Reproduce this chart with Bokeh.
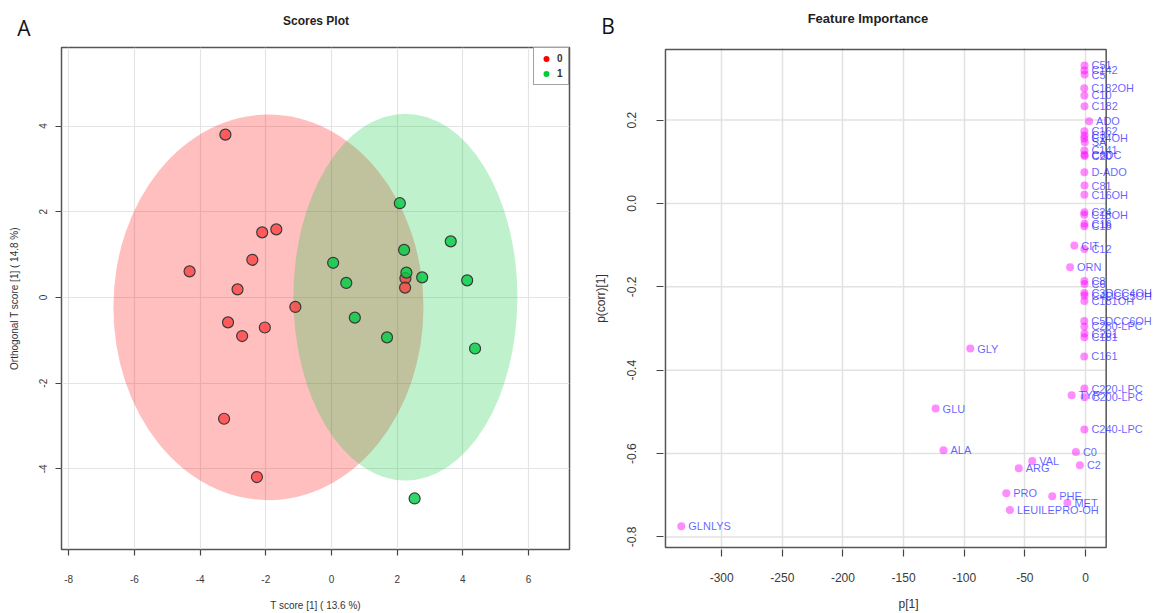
from bokeh.plotting import figure
from bokeh.layouts import row, column
from bokeh.models import (Range1d, FixedTicker, LabelSet, ColumnDataSource,
                          Legend, LegendItem, Div)
from bokeh.core.properties import value
from bokeh.embed import file_html
from bokeh.resources import INLINE

# ---------------- data: A, scores plot ----------------
group0_t = [-3.23, -2.11, -1.68, -2.41, -4.32, -2.86, -1.10, -3.15, -2.03, -2.72, -3.27, -2.27, 2.25, 2.24]
group0_o = [3.80, 1.52, 1.59, 0.88, 0.61, 0.19, -0.22, -0.58, -0.70, -0.90, -2.83, -4.19, 0.45, 0.23]
group1_t = [2.08, 3.63, 2.21, 0.05, 2.28, 2.76, 4.13, 0.45, 0.71, 1.69, 4.37, 2.53]
group1_o = [2.20, 1.31, 1.11, 0.81, 0.58, 0.47, 0.40, 0.34, -0.47, -0.93, -1.19, -4.69]
ellipse_cx = [-1.92, 2.25]
ellipse_cy = [-0.23, 0.01]
ellipse_w = [9.44, 6.82]
ellipse_h = [9.00, 8.56]
ellipse_colors = ["#FF0000", "#00CC33"]
groups = ["0", "1"]
a_xticks = [-8, -6, -4, -2, 0, 2, 4, 6]
a_xlabels = ["-8", "-6", "-4", "-2", "0", "2", "4", "6"]
a_yticks = [-4, -2, 0, 2, 4]
a_ylabels = ["-4", "-2", "0", "2", "4"]

# ---------------- data: B, feature importance ----------------
features = ["C51", "C142", "C5", "C182OH", "C10", "C182", "ADO",
            "C162", "C3", "C14OH", "SA", "C141", "C6DC", "C20",
            "D-ADO", "C81", "C16OH", "C24", "C18OH", "C16", "C18",
            "CIT", "C12", "ORN", "C8", "C6",
            "C3DCC4OH", "C4DCC5OH", "C181OH", "C5DCC6OH", "C260-LPC", "C201", "C181",
            "C161", "GLY", "C220-LPC", "TYR", "C200-LPC", "GLU", "C240-LPC",
            "ALA", "C0", "VAL", "C2", "ARG", "PRO", "PHE", "MET", "LEUILEPRO-OH", "GLNLYS"]
p1_values = [-0.8, -0.9, -0.7, -1.0, -0.9, -0.8, 3.0,
             -0.9, -0.8, -1.0, -0.6, -0.9, -0.8, -0.7,
             -0.9, -0.8, -0.9, -0.9, -1.0, -0.8, -0.9,
             -9.2, -0.9, -12.7, -0.9, -0.8,
             -0.9, -0.8, -0.9, -1.0, -0.9, -0.8, -0.9,
             -1.0, -95.0, -0.9, -11.4, -0.8, -123.6, -0.9,
             -117.1, -7.9, -43.9, -4.6, -55.0, -65.3, -27.4, -14.9, -62.3, -333.3]
pcorr_values = [0.331, 0.319, 0.309, 0.276, 0.259, 0.233, 0.197,
                0.173, 0.163, 0.156, 0.147, 0.127, 0.117, 0.114,
                0.075, 0.043, 0.021, -0.021, -0.027, -0.049, -0.055,
                -0.101, -0.109, -0.153, -0.186, -0.193,
                -0.215, -0.221, -0.234, -0.282, -0.295, -0.312, -0.321,
                -0.367, -0.348, -0.444, -0.460, -0.465, -0.492, -0.542,
                -0.592, -0.596, -0.618, -0.628, -0.635, -0.695, -0.702, -0.718, -0.735, -0.774]
b_xticks = [-300, -250, -200, -150, -100, -50, 0]
b_xlabels = ["-300", "-250", "-200", "-150", "-100", "-50", "0"]
b_yticks = [-0.8, -0.6, -0.4, -0.2, 0.0, 0.2]
b_ylabels = ["-0.8", "-0.6", "-0.4", "-0.2", "0.0", "0.2"]

FONT = "Liberation Sans"
TOTAL_W = 1153
STRIP_H = 40
TOP, BOTTOM, FRAME_H = 7, 64, 502
FIG_H = TOP + FRAME_H + BOTTOM


def style(p, xticks, xlabels, yticks, ylabels, tick_font, tick_out, xstandoff, ystandoff):
    p.xaxis.ticker = FixedTicker(ticks=xticks)
    p.yaxis.ticker = FixedTicker(ticks=yticks)
    p.xgrid.ticker = FixedTicker(ticks=xticks)
    p.ygrid.ticker = FixedTicker(ticks=yticks)
    p.xaxis.major_label_overrides = {t: s for t, s in zip(xticks, xlabels)}
    p.yaxis.major_label_overrides = {t: s for t, s in zip(yticks, ylabels)}
    for ax in (p.xaxis[0], p.yaxis[0]):
        ax.axis_line_color = None
        ax.major_tick_in = 0
        ax.major_tick_out = tick_out
        ax.major_tick_line_color = "#444444"
        ax.major_tick_line_width = 1.2
        ax.minor_tick_line_color = None
        ax.major_label_text_font = FONT
        ax.major_label_text_font_size = tick_font
        ax.major_label_text_color = "#3a3a3a"
        ax.axis_label_text_font = FONT
        ax.axis_label_text_font_style = "normal"
        ax.axis_label_text_color = "#333333"
    p.xaxis.major_label_standoff = xstandoff
    p.yaxis.major_label_standoff = ystandoff
    p.yaxis.major_label_orientation = "vertical"
    p.background_fill_color = "white"
    p.border_fill_color = "white"


# ---------------- figure A ----------------
pa = figure(width=590, height=FIG_H, x_range=Range1d(-8.219, 7.245), y_range=Range1d(-5.881, 5.834),
            output_backend="svg", toolbar_location=None,
            min_border_left=61, min_border_right=21, min_border_top=TOP, min_border_bottom=BOTTOM)
style(pa, a_xticks, a_xlabels, a_yticks, a_ylabels, "10px", 6, 19, 8)
pa.outline_line_color = "#555555"
pa.outline_line_width = 1.5
pa.grid.grid_line_color = "#E4E4E4"
pa.grid.grid_line_width = 1.2
pa.xaxis.axis_label = "T score [1] ( 13.6 %)"
pa.yaxis.axis_label = "Orthogonal T score [1] ( 14.8 %)"
pa.xaxis.axis_label_standoff = 14
pa.yaxis.axis_label_standoff = 17
pa.xaxis.axis_label_text_font_size = "10px"
pa.yaxis.axis_label_text_font_size = "10px"

ell_src = ColumnDataSource(dict(x=ellipse_cx, y=ellipse_cy, w=ellipse_w, h=ellipse_h, c=ellipse_colors))
pa.ellipse(x="x", y="y", width="w", height="h", source=ell_src,
           fill_color="c", fill_alpha=0.25, line_color=None)
pa.scatter(group0_t, group0_o, size=11, fill_color="#FF3030", fill_alpha=0.7,
           line_color="#3A3A3A", line_width=1.2)
pa.scatter(group1_t, group1_o, size=11, fill_color="#00CC44", fill_alpha=0.8,
           line_color="#3A3A3A", line_width=1.2)

leg0 = pa.scatter(group0_t, group0_o, size=0, fill_color="#FF0000", line_color=None)
leg1 = pa.scatter(group1_t, group1_o, size=0, fill_color="#00CC33", line_color=None)
legend = Legend(items=[LegendItem(label=groups[0], renderers=[leg0]),
                       LegendItem(label=groups[1], renderers=[leg1])],
                location="top_right", margin=0, padding=3, spacing=0,
                label_text_font=FONT, label_text_font_size="10px", label_height=15,
                label_width=8, label_text_font_style="bold", label_text_color="#333333",
                glyph_width=18, glyph_height=15, label_standoff=2,
                border_line_color="#444444", border_line_width=1.2,
                background_fill_alpha=1.0)
pa.add_layout(legend, "center")

# ---------------- figure B ----------------
# the frame runs on to the right edge so that the point labels can pass the box, as in the reference
BOX_L, BOX_R, BOX_B, BOX_T = -346.34, 17.07, -0.825, 0.3693
pb = figure(width=TOTAL_W - 590, height=FIG_H, x_range=Range1d(-347.97, 56.1), y_range=Range1d(-0.830, 0.374),
            output_backend="svg", toolbar_location=None,
            min_border_left=66, min_border_right=0, min_border_top=TOP, min_border_bottom=BOTTOM)
style(pb, b_xticks, b_xlabels, b_yticks, b_ylabels, "12px", 7, 16, 20)
pb.outline_line_color = None
pb.xgrid.grid_line_color = "#E2E2E2"
pb.xgrid.grid_line_width = 1.5
pb.ygrid.visible = False
pb.xaxis.bounds = (BOX_L, BOX_R)
pb.xaxis.axis_label = "p[1]"
pb.yaxis.axis_label = "p(corr)[1]"
pb.xaxis.axis_label_standoff = 12
pb.yaxis.axis_label_standoff = 17
pb.xaxis.axis_label_text_font_size = "12px"
pb.yaxis.axis_label_text_font_size = "12px"

n = len(b_yticks)
pb.segment(x0=[BOX_L] * n, y0=b_yticks, x1=[BOX_R] * n, y1=b_yticks,
           line_color="#E2E2E2", line_width=1.5)
pb.quad(left=[BOX_L], right=[BOX_R], bottom=[BOX_B], top=[BOX_T],
        fill_color=None, line_color="#555555", line_width=1.5)

src = ColumnDataSource(dict(x=p1_values, y=pcorr_values, name=features))
pb.scatter("x", "y", source=src, size=8, fill_color="#FF00FF", fill_alpha=0.45, line_color=None)
pb.add_layout(LabelSet(x="x", y="y", text="name", source=src, x_offset=7, y_offset=0,
                       text_baseline="middle", text_align="left",
                       text_font=value(FONT), text_font_size="11px",
                       text_color="#1A1AFF", text_alpha=0.7))

# ---------------- panel letters and titles ----------------
def span(x, y, txt, size, bold, family, color):
    weight = "bold" if bold else "normal"
    return (f'<span style="position:absolute;left:{x}px;top:{y}px;transform:translate(-50%,-50%);'
            f'white-space:nowrap;line-height:1;font-family:{family};font-size:{size}px;'
            f'font-weight:{weight};color:{color}">{txt}</span>')


strip_html = (f'<div style="position:relative;width:{TOTAL_W}px;height:{STRIP_H}px;">'
              + span(24, 28, "A", 21, False, "'Open Sans'", "#111111")
              + span(316, 21, "Scores Plot", 12, True, "'Liberation Sans'", "#222222")
              + span(608, 26, "B", 21, False, "'Open Sans'", "#111111")
              + span(868, 18, "Feature Importance", 13, True, "'Liberation Sans'", "#222222")
              + '</div>')
strip = Div(text=strip_html, width=TOTAL_W, height=STRIP_H, margin=(0, 0, 0, 0))

layout = column(strip, row(pa, pb), spacing=0)
open("out.html", "w").write(file_html(layout, INLINE))
